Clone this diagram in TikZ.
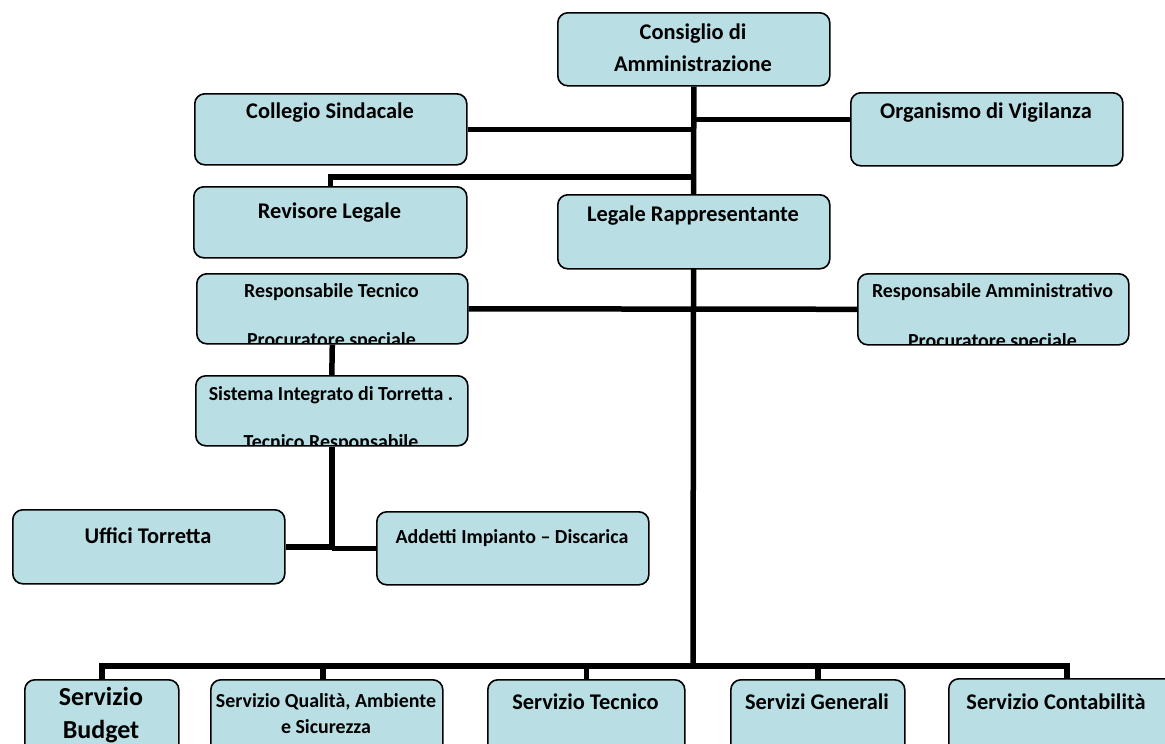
\documentclass[tikz,border=0pt]{standalone}
\usepackage{fontspec}
\setmainfont{Carlito}
\pgfdeclarelayer{bg}
\pgfsetlayers{bg,main}
\definecolor{boxfill}{RGB}{185,223,229}
\begin{document}
\begin{tikzpicture}[x=1pt,y=-1pt,
  box/.style={draw=black, line width=1.6pt, fill=boxfill, rounded corners=10pt, inner sep=0pt, anchor=north west},
  conn/.style={draw=black, line width=5.5pt},
  big/.style={font=\bfseries\fontsize{22.4pt}{26pt}\selectfont, anchor=base, inner sep=0pt},
  small/.style={font=\bfseries\fontsize{19.9pt}{23pt}\selectfont, anchor=base, inner sep=0pt},
  large/.style={font=\bfseries\fontsize{26pt}{30pt}\selectfont, anchor=base, inner sep=0pt}]
\useasboundingbox (0,0) rectangle (1165,744);

% boxes
\node[box, minimum width=272pt, minimum height=73pt] (cons) at (557,12) {};
\node[box, minimum width=272pt, minimum height=71pt] (coll) at (194,93) {};
\node[box, minimum width=272pt, minimum height=73pt] (org)  at (850,92) {};
\node[box, minimum width=273pt, minimum height=71pt] (rev)  at (193,186) {};
\node[box, minimum width=272pt, minimum height=74pt] (leg)  at (557,194) {};
\node[box, minimum width=271pt, minimum height=70pt] (rtec) at (196,273) {};
\node[box, minimum width=271pt, minimum height=71pt] (ramm) at (857,273) {};
\node[box, minimum width=272pt, minimum height=70pt] (sist) at (195,375) {};
\node[box, minimum width=272pt, minimum height=74pt] (uff)  at (12,509) {};
\node[box, minimum width=272pt, minimum height=73pt] (add)  at (376,511) {};
\node[box, minimum width=154pt, minimum height=80pt] (bud)  at (24,679) {};
\node[box, minimum width=232pt, minimum height=80pt] (qual) at (210,679) {};
\node[box, minimum width=197pt, minimum height=80pt] (tec)  at (487,679) {};
\node[box, minimum width=174pt, minimum height=80pt] (gen)  at (730,679) {};
\node[box, minimum width=232pt, minimum height=80pt] (cont) at (948,678) {};

% junction coordinates
\coordinate (jrev) at (693,177);
\coordinate (bus) at (693,666);

% connectors
\begin{pgfonlayer}{bg}
\draw[conn] (cons.south) -- (bus);
\draw[conn] (coll.east) -- (coll.east -| cons.south);
\draw[conn] ([yshift=10pt]org.west) -- ([yshift=10pt]org.west -| cons.south);
\draw[conn] (rev.north) |- (jrev);
\draw[conn] (rtec.east) -- (ramm.west);
\draw[conn] (rtec.south) -- (sist.north);
\draw[conn] (sist.south) -- (sist.south |- add.west);
\draw[conn] (uff.east) -- (uff.east -| sist.south);
\draw[conn] (add.west) -- (add.west -| sist.south);
\draw[conn] (bud.north) -- (bud.north |- bus) -- ([xshift=2pt]cont.north |- bus) -- ([xshift=2pt]cont.north);
\draw[conn] ([xshift=-4pt]qual.north) -- ([xshift=-4pt]qual.north |- bus);
\draw[conn] (tec.north) -- (tec.north |- bus);
\draw[conn] (gen.north) -- (gen.north |- bus);
\end{pgfonlayer}

% texts
\node[big] (tcons1) at (693,39) {Consiglio di};
\node[big] (tcons2) at (693,71) {Amministrazione};
\node[big] (tcoll) at (330,118) {Collegio Sindacale};
\node[big] (torg) at (986,118) {Organismo di Vigilanza};
\node[big] (trev) at (329.5,218) {Revisore Legale};
\node[big] (tleg) at (693,221) {Legale Rappresentante};
\node[small] (trtec1) at (331.5,297) {Responsabile Tecnico};
\node[small] (tramm1) at (992.5,297) {Responsabile Amministrativo};
\node[small] (tsist1) at (331,400) {Sistema Integrato di Torretta .};
\begin{scope}
\clip[rounded corners=9pt] ([shift={(1pt,1pt)}]rtec.south west) rectangle ([shift={(-1pt,-1pt)}]rtec.north east);
\node[small] (trtec2) at (331.5,346) {Procuratore speciale};
\end{scope}
\begin{scope}
\clip[rounded corners=9pt] ([shift={(1pt,1pt)}]ramm.south west) rectangle ([shift={(-1pt,-1pt)}]ramm.north east);
\node[small] (tramm2) at (992.5,347) {Procuratore speciale};
\end{scope}
\begin{scope}
\clip[rounded corners=9pt] ([shift={(1pt,1pt)}]sist.south west) rectangle ([shift={(-1pt,-1pt)}]sist.north east);
\node[small] (tsist2) at (331,448) {Tecnico Responsabile};
\end{scope}
\node[big] (tuff) at (148,543) {Uffici Torretta};
\node[small] (tadd) at (512,543) {Addetti Impianto – Discarica};
\node[large] (tbud1) at (101,705) {Servizio};
\node[large] (tbud2) at (101,738) {Budget};
\node[small] (tqual1) at (326,707) {Servizio Qualità, Ambiente};
\node[small] (tqual2) at (326,733) {e Sicurezza};
\node[big] (ttec) at (585.5,709) {Servizio Tecnico};
\node[big] (tgen) at (817,709) {Servizi Generali};
\node[big] (tcont) at (1056,709) {Servizio Contabilità};
\end{tikzpicture}
\end{document}
